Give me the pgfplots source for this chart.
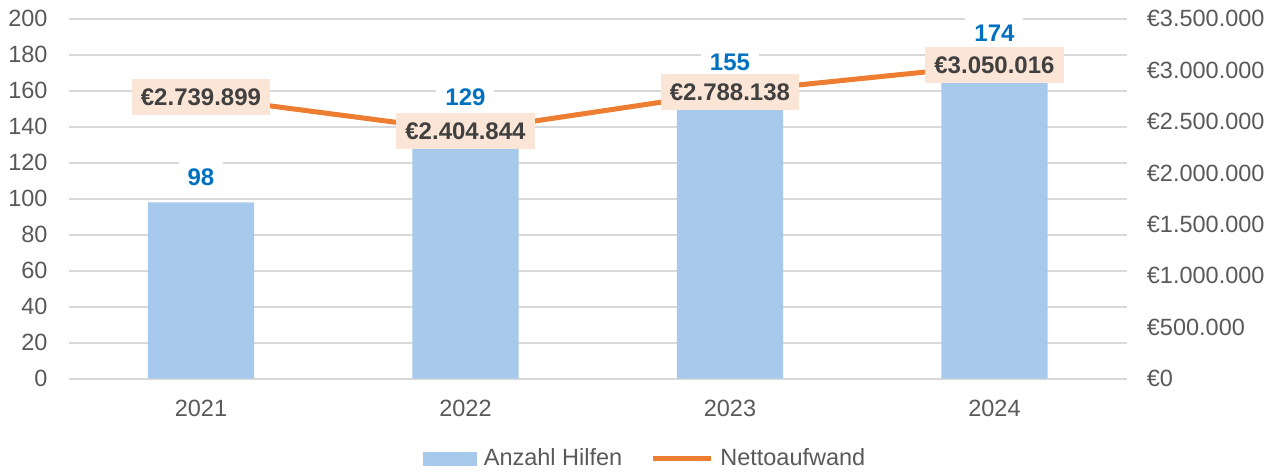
\documentclass[border=0pt]{standalone}
\usepackage{pgfplots}
\pgfplotsset{compat=1.18}
\usepackage{fontspec}
\setmainfont{Liberation Sans}
\definecolor{barblue}{HTML}{A7C9EB}
\definecolor{lineorange}{HTML}{ED7D31}
\definecolor{labelbg}{HTML}{FBE5D6}
\definecolor{labeltext}{HTML}{404040}
\definecolor{valblue}{HTML}{0070C0}
\definecolor{ticktext}{HTML}{595959}
\definecolor{gridgray}{HTML}{D9D9D9}
\begin{document}
\fontsize{23.5}{27}\selectfont
\begin{tikzpicture}
\useasboundingbox (-68.7pt,-93.3pt) rectangle (1210.3pt,378.7pt);
\begin{axis}[
  at={(0pt,0pt)}, anchor=south west,
  scale only axis, width=1058pt, height=360pt,
  xmin=-0.5, xmax=3.5, ymin=0, ymax=200,
  xtick={0,1,2,3}, xticklabels={2021,2022,2023,2024},
  ytick={0,20,40,60,80,100,120,140,160,180,200},
  axis line style={draw=none},
  tick style={draw=none},
  ymajorgrids, grid style={gridgray, line width=2pt},
  tick label style={font=\fontsize{23.5}{27}\selectfont, text=ticktext, inner sep=0pt},
  yticklabel style={anchor=east, xshift=-21pt},
  xticklabel style={anchor=north, yshift=-21pt},
  /pgf/number format/assume math mode=true,
  clip=false,
]
\addplot[ybar, bar width=106.3pt, fill=barblue, draw=none] coordinates {(0,98) (1,129) (2,155) (3,174)};
\addplot[draw=none, mark=none, nodes near coords, point meta=explicit symbolic,
  nodes near coords style={anchor=center, fill=white, text=valblue, inner xsep=9pt, inner ysep=8pt,
    font=\fontsize{24}{27}\selectfont\bfseries}]
  coordinates {(0,111.8) [98] (1,156.4) [129] (2,175.8) [155] (3,191.7) [174]};
\end{axis}
\begin{axis}[
  at={(0pt,0pt)}, anchor=south west,
  scale only axis, width=1058pt, height=360pt,
  xmin=-0.5, xmax=3.5, ymin=0, ymax=3500000,
  axis x line=none, axis y line*=right,
  axis line style={draw=none},
  tick style={draw=none},
  scaled y ticks=false,
  ytick={0,500000,1000000,1500000,2000000,2500000,3000000,3500000},
  yticklabels={€0,€500.000,€1.000.000,€1.500.000,€2.000.000,€2.500.000,€3.000.000,€3.500.000},
  tick label style={font=\fontsize{23.5}{27}\selectfont, text=ticktext, inner sep=0pt},
  yticklabel style={anchor=west, xshift=20pt},
  clip=false,
  legend columns=2,
  legend style={draw=none, fill=none, at={(0.546,-0.223)}, anchor=center,
    font=\fontsize{23.5}{27}\selectfont, text=ticktext,
    nodes={inner xsep=4pt, inner ysep=0pt},
    /tikz/every even column/.append style={column sep=24pt}},
  legend cell align=left,
]
\addlegendimage{legend image code/.code={\fill[barblue] (0pt,-6.5pt) rectangle (53pt,6.5pt);}}
\addlegendentry{\hspace{3pt}Anzahl Hilfen}
\addplot[color=lineorange, line width=5pt, mark=none, line join=round,
  nodes near coords, point meta=explicit symbolic,
  nodes near coords style={anchor=center, fill=labelbg, text=labeltext, inner xsep=9pt, inner ysep=9.5pt,
    font=\fontsize{24}{27}\selectfont\bfseries},
  legend image code/.code={\draw[lineorange, line width=5pt] (0pt,0pt) -- (58pt,0pt);}]
  coordinates {(0,2739899) [€2.739.899] (1,2404844) [€2.404.844] (2,2788138) [€2.788.138] (3,3050016) [€3.050.016]};
\addlegendentry{\hspace{3pt}Nettoaufwand}
\end{axis}
\end{tikzpicture}
\end{document}
